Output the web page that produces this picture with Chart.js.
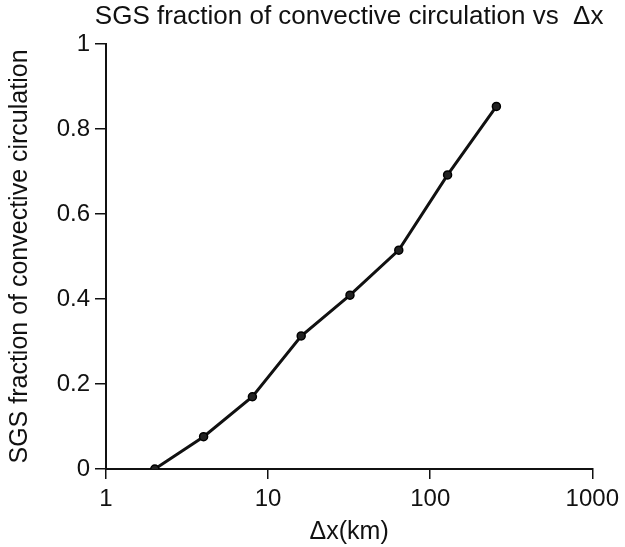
<!DOCTYPE html>
<html>
<head>
<meta charset="utf-8">
<script src="https://cdn.jsdelivr.net/npm/chart.js@4"></script>
<style>
  html, body { margin: 0; padding: 0; background: #fff; }
  #wrap { width: 625px; height: 547px; }
</style>
</head>
<body>
<div id="wrap"><canvas id="sgs"></canvas></div>
<script>
// grid spacing (km) and SGS fraction
var dxKm = [2, 4, 8, 16, 32, 64, 128, 256];
var sgsFraction = [0.0, 0.076, 0.170, 0.313, 0.409, 0.515, 0.692, 0.853];
var xTicks = [1, 10, 100, 1000];
var yTicks = [0, 0.2, 0.4, 0.6, 0.8, 1];

var chartTitle = 'SGS fraction of convective circulation vs  \u0394x';
var fontFamily = "'Liberation Sans', Arial, Helvetica, sans-serif";

// title centred over the plot area, like the original figure
var titlePlugin = {
    id: 'plotTitle',
    afterDraw: function(chart) {
        var ctx = chart.ctx;
        var area = chart.chartArea;
        ctx.save();
        ctx.fillStyle = '#111';
        ctx.font = '26px ' + fontFamily;
        ctx.textAlign = 'center';
        ctx.textBaseline = 'middle';
        ctx.fillText(chartTitle, (area.left + area.right) / 2, 17);
        ctx.restore();
    }
};

var points = [];
for (var i = 0; i < dxKm.length; i++) {
    points.push({x: dxKm[i], y: sgsFraction[i]});
}

var ctx = document.getElementById('sgs').getContext('2d');
var myChart = new Chart(ctx, {
    type: 'line',
    data: {
        datasets: [{
            label: 'SGS fraction',
            data: points,
            borderColor: '#111',
            backgroundColor: '#222',
            borderWidth: 3,
            pointRadius: 4,
            pointBorderWidth: 1.5,
            pointBorderColor: '#000',
            pointBackgroundColor: '#222',
            tension: 0
        }]
    },
    options: {
        responsive: true,
        maintainAspectRatio: false,
        animation: false,
        layout: {
            padding: {top: 44, right: 28, left: 0, bottom: 0}
        },
        plugins: {
            legend: {display: false},
            title: {display: false},
            tooltip: {enabled: false}
        },
        scales: {
            x: {
                type: 'logarithmic',
                min: 1,
                max: 1000,
                afterBuildTicks: function(axis) {
                    axis.ticks = xTicks.map(function(v) { return {value: v}; });
                },
                afterFit: function(axis) { axis.height = 78; },
                ticks: {
                    color: '#111',
                    padding: 6,
                    maxRotation: 0,
                    font: {family: fontFamily, size: 24},
                    callback: function(v) { return String(v); }
                },
                grid: {
                    drawOnChartArea: false,
                    color: '#111',
                    lineWidth: 1.5,
                    tickLength: 10
                },
                border: {color: '#111', width: 2},
                title: {
                    display: true,
                    text: '\u0394x(km)',
                    color: '#111',
                    padding: {top: 0, bottom: 0},
                    font: {family: fontFamily, size: 25}
                }
            },
            y: {
                min: 0,
                max: 1,
                afterBuildTicks: function(axis) {
                    axis.ticks = yTicks.map(function(v) { return {value: v}; });
                },
                afterFit: function(axis) { axis.width = 106; },
                ticks: {
                    color: '#111',
                    padding: 5,
                    font: {family: fontFamily, size: 24},
                    callback: function(v) { return String(v); }
                },
                grid: {
                    drawOnChartArea: false,
                    color: '#111',
                    lineWidth: 1.5,
                    tickLength: 11
                },
                border: {color: '#111', width: 2},
                title: {
                    display: true,
                    text: 'SGS fraction of convective circulation',
                    color: '#111',
                    padding: {top: 5, bottom: 0},
                    font: {family: fontFamily, size: 25}
                }
            }
        }
    },
    plugins: [titlePlugin]
});
</script>
</body>
</html>
